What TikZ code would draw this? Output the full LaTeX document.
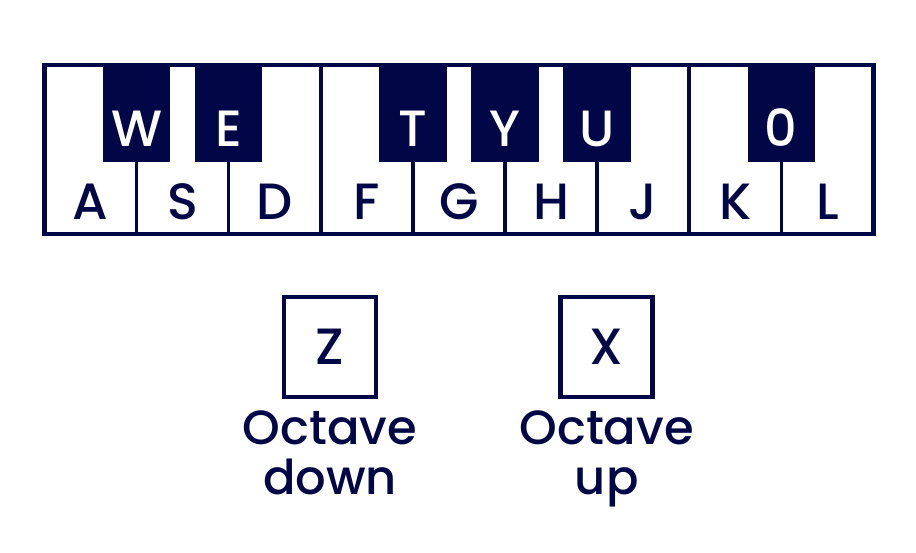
\documentclass[tikz,border=0pt]{standalone}
\usepackage{fontspec}
\setmainfont{Poppins}[UprightFont=* Medium]
\usetikzlibrary{positioning}
\definecolor{navy}{RGB}{1,6,70}
\tikzset{
  whitekey/.style={draw=navy, line width=3.5pt, fill=white, minimum width=92.1pt,
    minimum height=169pt, inner sep=0pt, outer sep=0pt},
  blackkey/.style={fill=navy, minimum width=67.3pt, minimum height=97pt,
    inner sep=0pt, outer sep=0pt, anchor=north},
  keylbl/.style={text=navy, font=\fontsize{51}{51}\selectfont, anchor=base, inner sep=0pt},
  blacklbl/.style={keylbl, text=white},
  octbox/.style={draw=navy, line width=4.7pt, minimum width=92pt, minimum height=100pt,
    inner sep=0pt, text=navy, font=\fontsize{51}{51}\selectfont},
  octlbl/.style={text=navy, align=center, font=\fontsize{48}{50}\selectfont, inner sep=0pt}
}
\begin{document}
\begin{tikzpicture}[x=1pt, y=-1pt]
  \useasboundingbox (0,0) rectangle (916,553);
  % white keys
  \foreach \k [count=\i from 0] in {A,S,D,F,G,H,J,K,L} {
    \node[whitekey] (w\k) at ({90.55+92.1*\i},149.5) {};
    \node[keylbl] (l\k) at ({90.55+92.1*\i},220) {\k};
  }
  % black keys
  \foreach \k/\n in {W/1,E/2,T/4,Y/5,U/6,0/8} {
    \node[blackkey] (b\n) at ({44.5+92.1*\n},65) {};
    \node[blacklbl] (t\n) at ({44.5+92.1*\n},146.7) {\k};
  }
  \draw[navy, line width=4.7pt] (wA.north west) rectangle (wL.south east);
  % octave keys
  \node[octbox] (zkey) at (330,347) {Z};
  \node[octlbl, below=11pt of zkey] (zlbl) {Octave\\down};
  \node[octbox] (xkey) at (606.7,347) {X};
  \node[octlbl, below=11pt of xkey] (xlbl) {Octave\\up};
\end{tikzpicture}
\end{document}
